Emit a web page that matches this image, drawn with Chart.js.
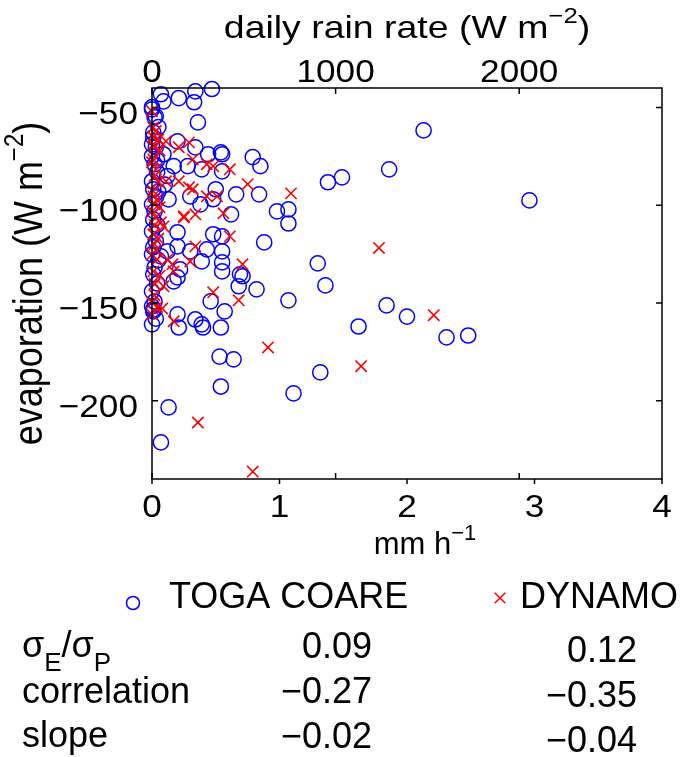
<!DOCTYPE html>
<html>
<head>
<meta charset="utf-8">
<script src="https://cdn.jsdelivr.net/npm/chart.js@4.4.1/dist/chart.umd.min.js"></script>
<style>
  html, body { margin: 0; padding: 0; background: #fff; }
  canvas { display: block; }
</style>
</head>
<body>
<canvas id="rainChart" width="680" height="757"></canvas>
<script>
// TOGA COARE daily means (rain in mm/h, evaporation in W m-2)
const togaRain = [
  0.00, 0.03, 0.07, 0.09, 0.21, 0.34, 0.47, 0.33, 0.36, 0.01, 0.00,
  0.20, 0.34, 0.44, 0.54, 0.55, 0.55, 0.39, 0.28, 0.17, 0.09, 0.79, 0.85,
  1.38, 1.49, 0.50, 0.66, 0.84, 0.30, 0.38, 0.48, 0.98, 1.07, 1.07, 0.62,
  0.20, 0.48, 0.55, 0.88, 0.20, 0.30, 0.43, 0.55, 0.55, 1.30, 0.12, 0.07,
  0.69, 0.55, 0.22, 0.39, 0.71, 0.68, 0.82, 1.36, 1.07, 0.46, 0.57, 0.20,
  0.17, 0.00, 0.01, 0.00, 0.20, 0.21, 0.34, 0.39, 0.40, 0.54, 0.53, 0.64,
  0.54, 1.32, 1.11, 0.13, 0.07, 2.13, 1.86, 2.96, 1.84, 1.62, 2.00, 2.31,
  2.48, 0.12, 0.10, 0.13,
  0.00, 0.02, 0.01, 0.03, 0.00, 0.02, 0.04, 0.00, 0.01, 0.03, 0.00,
  0.02, 0.01, 0.00, 0.03, 0.01, 0.00, 0.02, 0.01, 0.00, 0.02, 0.01,
  0.05, 0.04, 0.05, 0.04, 0.05, 0.04, 0.03
];
const togaEvap = [
  -50.9, -54.5, -43.2, -46.8, -45.2, -41.7, -40.5, -47.3, -57.6, -62.7, -68.8,
  -67.3, -70.4, -73.9, -72.9, -73.9, -82.6, -81.6, -80.0, -80.0, -73.9, -75.4, -80.0,
  -88.2, -85.7, -91.8, -94.4, -94.4, -95.4, -99.5, -96.9, -103.1, -102.1, -109.3, -104.6,
  -113.8, -114.8, -115.9, -119.0, -121.0, -123.6, -122.5, -123.6, -129.2, -129.7, -123.6, -126.1,
  -135.3, -133.8, -132.8, -128.7, -136.3, -141.4, -143.0, -141.0, -148.6, -149.1, -154.3, -136.9,
  -138.9, -151.7, -153.3, -160.9, -155.8, -162.5, -158.4, -160.9, -162.5, -162.5, -177.4, -178.8,
  -192.7, -185.5, -196.2, -203.4, -221.3, -61.7, -81.6, -97.5, -151.2, -162.0, -156.9, -167.6,
  -166.6, -85.0, -89.4, -97.0,
  -49.8, -55.0, -65.2, -70.3, -74.9, -79.0, -83.1, -87.7, -91.8, -95.9, -99.5,
  -103.1, -107.2, -113.3, -118.4, -121.5, -125.1, -131.8, -135.3, -144.0, -149.2, -154.3,
  -60.0, -77.0, -93.0, -110.0, -128.0, -140.0, -158.0
];

// DYNAMO daily means
const dynamoRain = [
  0.00, 0.01, 0.01, 0.05, 0.11, 0.01, 0.29, 0.21, 0.01, 0.32, 0.43, 0.48,
  0.61, 0.11, 0.21, 0.29, 0.32, 0.75, 0.43, 0.51, 1.09, 0.01, 0.25, 0.34,
  0.56, 0.07, 0.09, 0.61, 0.34, 0.04, 0.12, 0.30, 0.16, 0.17, 0.71, 0.01,
  0.09, 0.48, 0.68, 0.00, 0.08, 0.00, 0.17, 0.91, 0.36, 0.79, 1.78, 2.21,
  1.64,
  0.02, 0.00, 0.03, 0.01, 0.02, 0.00, 0.03, 0.01, 0.02, 0.00, 0.02, 0.25,
  0.03, 0.06, 0.02, 0.05, 0.04, 0.06, 0.02, 0.05, 0.03, 0.06, 0.02, 0.04
];
const dynamoEvap = [
  -51.9, -60.1, -65.2, -66.2, -67.2, -68.8, -67.8, -70.3, -76.5, -76.5, -79.0, -80.0,
  -81.6, -87.7, -87.7, -90.8, -91.8, -89.2, -95.4, -95.4, -93.9, -95.4, -105.6, -104.6,
  -104.1, -108.7, -110.8, -115.9, -121.0, -127.7, -127.7, -128.7, -130.2, -133.8, -130.2, -133.8,
  -141.4, -144.5, -148.6, -149.7, -152.8, -155.8, -159.3, -172.7, -211.1, -236.2, -121.8, -156.2,
  -182.3,
  -70.3, -78.0, -81.6, -92.8, -99.5, -103.1, -106.2, -114.8, -119.9, -125.1, -140.4, -106.2,
  -62.0, -72.0, -85.0, -88.0, -97.0, -101.0, -110.0, -117.0, -123.0, -136.0, -146.0, -152.0
];

// axis ticks
const rainTicks = [0, 1, 2, 3, 4];
const wattTicks = [0, 1000, 2000];
const evapTicks = [-200, -150, -100, -50];
const WATT_PER_MMH = 694.4;   // latent heat of 1 mm/h of rain

// statistics block under the legend
const statLabels = ['σ/σ', 'correlation', 'slope'];
const togaStats = ['0.09', '−0.27', '−0.02'];
const dynamoStats = ['0.12', '−0.35', '−0.04'];

const FONT = '"Liberation Sans", Arial, sans-serif';
const BLUE = '#0000ff';
const RED = '#ff0000';

function toPoints(xs, ys) {
  return xs.map((x, i) => ({ x: x, y: ys[i] }));
}
function minus(v) {
  return String(v).replace('-', '−');
}

// draws a row of text pieces (for superscripts/subscripts), sx = horizontal stretch
function rich(ctx, parts, x, y, align, sx) {
  let total = 0;
  const widths = parts.map(p => {
    ctx.font = p.size + 'px ' + FONT;
    const w = ctx.measureText(p.t).width * sx;
    total += w;
    return w;
  });
  let cur = align === 'center' ? x - total / 2 : align === 'right' ? x - total : x;
  parts.forEach((p, i) => {
    ctx.save();
    ctx.font = p.size + 'px ' + FONT;
    ctx.textAlign = 'left';
    ctx.textBaseline = 'alphabetic';
    ctx.translate(cur, y + (p.dy || 0));
    ctx.scale(sx, 1);
    ctx.fillText(p.t, 0, 0);
    ctx.restore();
    cur += widths[i];
  });
}

const matlabAxes = {
  id: 'matlabAxes',
  afterDatasetsDraw(chart) {
    const ctx = chart.ctx;
    const a = chart.chartArea;
    const xs = chart.scales.x, x2 = chart.scales.x2, ys = chart.scales.y;
    ctx.save();
    ctx.fillStyle = '#000';
    ctx.strokeStyle = '#000';
    ctx.lineWidth = 1.5;

    // box
    ctx.strokeRect(a.left, a.top, a.right - a.left, a.bottom - a.top);

    // ticks
    ctx.beginPath();
    ys.ticks.forEach(t => {
      const py = ys.getPixelForValue(t.value);
      ctx.moveTo(a.left, py); ctx.lineTo(a.left + 6, py);
      ctx.moveTo(a.right, py); ctx.lineTo(a.right - 6, py);
    });
    x2.ticks.forEach(t => {
      const px = x2.getPixelForValue(t.value);
      ctx.moveTo(px, a.top); ctx.lineTo(px, a.top + 6);
      ctx.moveTo(px, a.bottom); ctx.lineTo(px, a.bottom - 6);
    });
    xs.ticks.forEach(t => {
      const px = xs.getPixelForValue(t.value);
      ctx.moveTo(px, a.bottom); ctx.lineTo(px, a.bottom + 5);
    });
    ctx.stroke();

    // tick labels
    ys.ticks.forEach(t => {
      rich(ctx, [{ t: minus(t.value), size: 32 }], a.left - 14, ys.getPixelForValue(t.value) + 16, 'right', 1.1);
    });
    x2.ticks.forEach(t => {
      rich(ctx, [{ t: String(t.value), size: 32 }], x2.getPixelForValue(t.value), a.top - 6, 'center', 1.1);
    });
    xs.ticks.forEach(t => {
      rich(ctx, [{ t: String(t.value), size: 32 }], xs.getPixelForValue(t.value), a.bottom + 38, 'center', 1.1);
    });

    // axis titles
    const midX = (a.left + a.right) / 2;
    rich(ctx, [
      { t: 'daily rain rate (W m', size: 32 },
      { t: '−2', size: 22, dy: -15 },
      { t: ')', size: 32 }
    ], midX, 38, 'center', 1.17);
    rich(ctx, [
      { t: 'mm h', size: 31 },
      { t: '−1', size: 22, dy: -14 }
    ], midX + 18, a.bottom + 75, 'center', 1.0);

    ctx.save();
    ctx.translate(42, (a.top + a.bottom) / 2);
    ctx.scale(1.12, 1);
    ctx.rotate(-Math.PI / 2);
    rich(ctx, [
      { t: 'evaporation (W m', size: 36 },
      { t: '−2', size: 24, dy: -17 },
      { t: ')', size: 36 }
    ], 0, 0, 'center', 1.0);
    ctx.restore();

    // legend, using the dataset marker styles
    const dsT = chart.data.datasets[1], dsD = chart.data.datasets[0];
    ctx.fillStyle = 'rgba(0,0,0,0)';
    ctx.lineWidth = dsT.borderWidth;
    ctx.strokeStyle = dsT.borderColor;
    Chart.helpers.drawPoint(ctx, { pointStyle: dsT.pointStyle, radius: 6.5, borderWidth: dsT.borderWidth }, 133, 603);
    ctx.strokeStyle = dsD.borderColor;
    Chart.helpers.drawPoint(ctx, { pointStyle: dsD.pointStyle, radius: 7.5, borderWidth: dsD.borderWidth }, 500, 598);
    ctx.fillStyle = '#000';
    rich(ctx, [{ t: dsT.label, size: 36 }], 169, 608, 'left', 1.0);
    rich(ctx, [{ t: dsD.label, size: 36 }], 520, 608, 'left', 1.0);

    // statistics
    rich(ctx, [
      { t: 'σ', size: 36 },
      { t: 'E', size: 26, dy: 14 },
      { t: '/σ', size: 36 },
      { t: 'P', size: 26, dy: 14 }
    ], 22, 657, 'left', 1.0);
    rich(ctx, [{ t: statLabels[1], size: 36 }], 22, 703, 'left', 1.0);
    rich(ctx, [{ t: statLabels[2], size: 36 }], 22, 747, 'left', 1.0);
    const rowsL = [658, 703, 748], rowsR = [662, 707, 752];
    togaStats.forEach((s, i) => rich(ctx, [{ t: s, size: 36 }], 372, rowsL[i], 'right', 1.0));
    dynamoStats.forEach((s, i) => rich(ctx, [{ t: s, size: 36 }], 637, rowsR[i], 'right', 1.0));

    ctx.restore();
  }
};

Chart.defaults.font.family = FONT;

const ctx = document.getElementById('rainChart').getContext('2d');
const rainChart = new Chart(ctx, {
  type: 'scatter',
  data: {
    datasets: [{
      label: 'DYNAMO',
      data: toPoints(dynamoRain, dynamoEvap),
      pointStyle: 'crossRot',
      pointRadius: 8,
      borderColor: RED,
      backgroundColor: RED,
      borderWidth: 1.6,
      clip: false,
      order: 0
    }, {
      label: 'TOGA COARE',
      data: toPoints(togaRain, togaEvap),
      pointStyle: 'circle',
      pointRadius: 7.6,
      borderColor: BLUE,
      backgroundColor: 'rgba(0,0,0,0)',
      borderWidth: 1.5,
      clip: false,
      order: 1
    }]
  },
  options: {
    responsive: false,
    animation: false,
    events: [],
    layout: { padding: { left: 0, right: 18, top: 0, bottom: 0 } },
    plugins: {
      legend: { display: false },
      tooltip: { enabled: false }
    },
    scales: {
      x: {
        type: 'linear',
        position: 'bottom',
        min: 0,
        max: 4,
        afterBuildTicks: s => { s.ticks = rainTicks.map(v => ({ value: v })); },
        afterFit: s => { s.height = 278; },
        ticks: { display: false },
        grid: { display: false },
        border: { display: false }
      },
      x2: {
        type: 'linear',
        axis: 'x',
        position: 'top',
        min: 0,
        max: 4 * WATT_PER_MMH,
        afterBuildTicks: s => { s.ticks = wattTicks.map(v => ({ value: v })); },
        afterFit: s => { s.height = 88; },
        ticks: { display: false },
        grid: { display: false },
        border: { display: false }
      },
      y: {
        type: 'linear',
        position: 'left',
        min: -240,
        max: -40,
        afterBuildTicks: s => { s.ticks = evapTicks.map(v => ({ value: v })); },
        afterFit: s => { s.width = 152; },
        ticks: { display: false },
        grid: { display: false },
        border: { display: false }
      }
    }
  },
  plugins: [matlabAxes]
});
</script>
</body>
</html>
